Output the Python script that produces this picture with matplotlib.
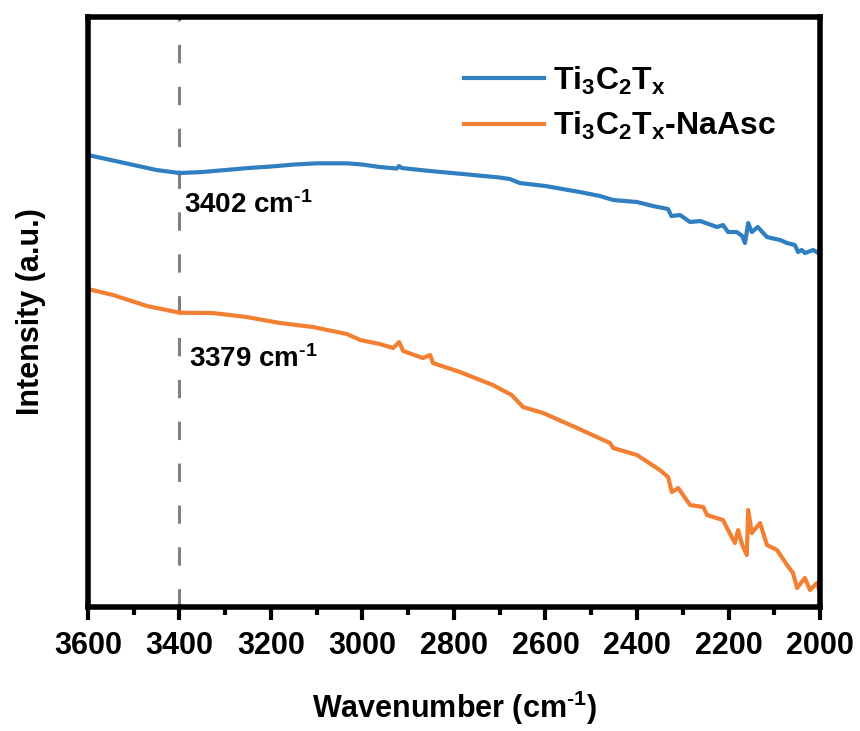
import matplotlib
matplotlib.use("Agg")
import matplotlib.pyplot as plt

plt.rcParams['font.family'] = ['Liberation Sans', 'DejaVu Sans']
plt.rcParams['font.weight'] = 'bold'
plt.rcParams['mathtext.fontset'] = 'custom'
plt.rcParams['mathtext.rm'] = 'Liberation Sans:bold'
plt.rcParams['mathtext.bf'] = 'Liberation Sans:bold'
plt.rcParams['mathtext.it'] = 'Liberation Sans:bold'
plt.rcParams['mathtext.default'] = 'bf'

# FTIR spectra (wavenumber in cm-1, intensity in a.u.)
wn_ti3c2tx = [3600, 3550, 3500, 3450, 3400, 3350, 3300, 3250, 3200, 3150, 3100, 3034,
              3000, 2962, 2925, 2920, 2914, 2852, 2780, 2700, 2678, 2656, 2600, 2525,
              2481, 2452, 2400, 2365, 2332, 2325, 2306, 2284, 2262, 2225, 2212, 2201,
              2182, 2170, 2164, 2157, 2149, 2136, 2116, 2087, 2072, 2055, 2048, 2040,
              2033, 2015, 2004, 2000]
int_ti3c2tx = [4.52, 4.47, 4.42, 4.37, 4.34, 4.35, 4.37, 4.39, 4.405, 4.425, 4.437, 4.437,
               4.425, 4.40, 4.385, 4.41, 4.39, 4.36, 4.33, 4.295, 4.28, 4.24, 4.21, 4.15,
               4.11, 4.07, 4.05, 4.01, 3.98, 3.91, 3.92, 3.85, 3.86, 3.80, 3.82, 3.75,
               3.75, 3.71, 3.64, 3.84, 3.75, 3.80, 3.70, 3.67, 3.64, 3.62, 3.55, 3.57,
               3.54, 3.57, 3.54, 3.55]

wn_naasc = [3600, 3545, 3471, 3399, 3327, 3253, 3180, 3108, 3034, 3005, 2962, 2933,
            2920, 2911, 2868, 2852, 2846, 2787, 2715, 2674, 2649, 2605, 2531, 2459,
            2452, 2400, 2350, 2332, 2324, 2310, 2284, 2255, 2247, 2212, 2201, 2186,
            2179, 2170, 2160, 2157, 2149, 2131, 2116, 2094, 2072, 2059, 2050, 2040,
            2033, 2022, 2007, 2000]
int_naasc = [3.18, 3.12, 3.01, 2.943, 2.94, 2.90, 2.84, 2.80, 2.73, 2.67, 2.63, 2.59,
             2.65, 2.56, 2.49, 2.52, 2.44, 2.35, 2.22, 2.12, 2.00, 1.94, 1.79, 1.64,
             1.59, 1.52, 1.37, 1.30, 1.15, 1.19, 1.02, 1.00, 0.92, 0.87, 0.77, 0.64,
             0.77, 0.62, 0.52, 0.97, 0.74, 0.84, 0.62, 0.57, 0.42, 0.34, 0.19, 0.25,
             0.29, 0.17, 0.24, 0.15]

labels = [r'Ti$_3$C$_2$T$_x$', r'Ti$_3$C$_2$T$_x$-NaAsc']
peak_pos = 3400
peak_texts = [r'3402 cm$^{\text{-1}}$', r'3379 cm$^{\text{-1}}$']
xticks = [3600, 3400, 3200, 3000, 2800, 2600, 2400, 2200, 2000]

fig = plt.figure(figsize=(8.6, 7.31), dpi=100)
ax = fig.add_axes([0.1023, 0.1696, 0.8512, 0.8071])

ax.axvline(peak_pos, color='#808080', lw=2.2, linestyle=(0, (6, 7.7)), zorder=1)
ax.plot(wn_ti3c2tx, int_ti3c2tx, color='#2f7fc1', lw=3.0, label=labels[0], zorder=2)
ax.plot(wn_naasc, int_naasc, color='#f37f33', lw=3.0, label=labels[1], zorder=2)

ax.set_xlim(3600, 2000)
ax.set_ylim(0, 5.9)
ax.set_xticks(xticks)
ax.set_xticks(range(3500, 2000, -200), minor=True)
ax.set_yticks([])

for sp in ax.spines.values():
    sp.set_linewidth(4)
ax.tick_params(axis='x', which='major', direction='out', length=9, width=3, labelsize=22, pad=8)
ax.tick_params(axis='x', which='minor', direction='out', length=5.5, width=3)

ax.text(3390, 4.02, peak_texts[0], fontsize=20, fontweight='bold', ha='left', va='center')
ax.text(3380, 2.48, peak_texts[1], fontsize=20, fontweight='bold', ha='left', va='center')

ax.set_xlabel(r'Wavenumber (cm$^{\text{-1}}$)', fontsize=22, fontweight='bold', labelpad=20)
ax.set_ylabel('Intensity (a.u.)', fontsize=22, fontweight='bold', labelpad=30)

ax.legend(loc='upper left', bbox_to_anchor=(0.474, 0.968), frameon=False, fontsize=23,
          handlelength=2.5, labelspacing=0.42, handletextpad=0.3)

fig.savefig('out.png', dpi=100)
